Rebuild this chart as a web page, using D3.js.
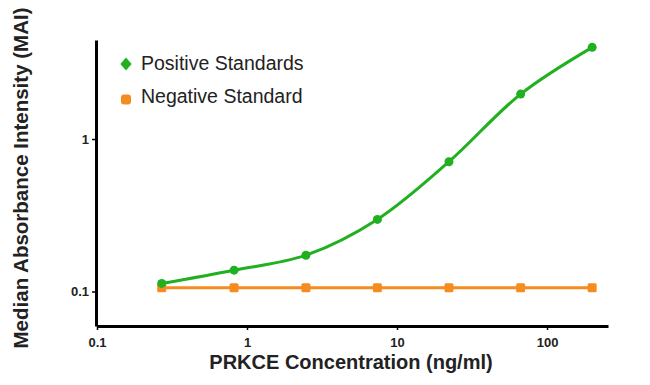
<!DOCTYPE html>
<html><head><meta charset="utf-8">
<script src="https://cdn.jsdelivr.net/npm/d3@7"></script>
<style>body{margin:0;background:#fff}svg{display:block}</style>
</head><body>
<svg id="chart" width="650" height="385"></svg>
<script>
const concentrations = [0.27, 0.82, 2.47, 7.4, 22.2, 66.7, 200];
const positiveValues = [0.113, 0.138, 0.173, 0.297, 0.71, 1.97, 3.99];
const negativeValues = [0.106, 0.106, 0.106, 0.106, 0.106, 0.106, 0.106];
const xTicks = [0.1, 1, 10, 100];
const yTicks = [0.1, 1];
const seriesNames = ["Positive Standards", "Negative Standard"];

const svg = d3.select("#chart");
const green = "#20b020", orange = "#f58c1f";
const font = "Arial, 'Liberation Sans', sans-serif";

const x = d3.scaleLog().domain([0.1, 255]).range([97, 608]);
const y = d3.scaleLog().domain([0.0594, 4.46]).range([326, 40]);

// axes
const xAxis = d3.axisBottom(x).tickValues(xTicks).tickFormat(d3.format("~g")).tickSize(4).tickSizeOuter(0);
const yAxis = d3.axisLeft(y).tickValues(yTicks).tickFormat(d3.format("~g")).tickSize(4).tickSizeOuter(0);

const gx = svg.append("g").attr("transform", "translate(0,326)").call(xAxis);
const gy = svg.append("g").attr("transform", "translate(96,0)").call(yAxis);
[gx, gy].forEach(g => {
  g.select(".domain").attr("stroke", "#000").attr("stroke-width", 3);
  g.selectAll(".tick line").attr("stroke", "#000").attr("stroke-width", 1.5);
  g.selectAll(".tick text").attr("fill", "#222").attr("font-family", font)
    .attr("font-size", 13).attr("font-weight", "bold");
});
gx.selectAll(".tick text").attr("y", 21).attr("dy", 0);
gy.selectAll(".tick text").attr("x", -7);

// axis titles
svg.append("text").attr("x", 351).attr("y", 369).attr("text-anchor", "middle")
  .attr("font-family", font).attr("font-size", 20).attr("font-weight", "bold").attr("fill", "#222")
  .text("PRKCE Concentration (ng/ml)");
svg.append("text").attr("transform", "translate(28,178) rotate(-90)").attr("text-anchor", "middle")
  .attr("font-family", font).attr("font-size", 20.5).attr("font-weight", "bold").attr("fill", "#222")
  .text("Median Absorbance Intensity (MAI)");

// negative series
const negLine = d3.line().x((d, i) => x(concentrations[i])).y(d => y(d));
svg.append("path").datum(negativeValues).attr("d", negLine)
  .attr("fill", "none").attr("stroke", orange).attr("stroke-width", 3);
svg.selectAll(".negpt").data(negativeValues).enter().append("rect")
  .attr("x", (d, i) => x(concentrations[i]) - 4.5).attr("y", d => y(d) - 4.5)
  .attr("width", 9).attr("height", 9).attr("rx", 1.5).attr("fill", orange);

// positive series
const posLine = d3.line().x((d, i) => x(concentrations[i])).y(d => y(d)).curve(d3.curveCatmullRom.alpha(0.5));
svg.append("path").datum(positiveValues).attr("d", posLine)
  .attr("fill", "none").attr("stroke", green).attr("stroke-width", 3);
svg.selectAll(".pospt").data(positiveValues).enter().append("circle")
  .attr("cx", (d, i) => x(concentrations[i])).attr("cy", d => y(d)).attr("r", 4.5).attr("fill", green);

// legend
const legend = svg.append("g");
legend.append("path").attr("d", d3.symbol(d3.symbolDiamond, 70)()).attr("transform", "translate(126,64) scale(1.25,0.85)").attr("fill", green);
legend.append("rect").attr("x", 121).attr("y", 94.5).attr("width", 10).attr("height", 10).attr("rx", 3).attr("fill", orange);
seriesNames.forEach((n, i) => {
  legend.append("text").attr("x", 141).attr("y", 69.5 + i * 33.5)
    .attr("font-family", font).attr("font-size", 19.5).attr("fill", "#222").text(n);
});
</script>
</body></html>
